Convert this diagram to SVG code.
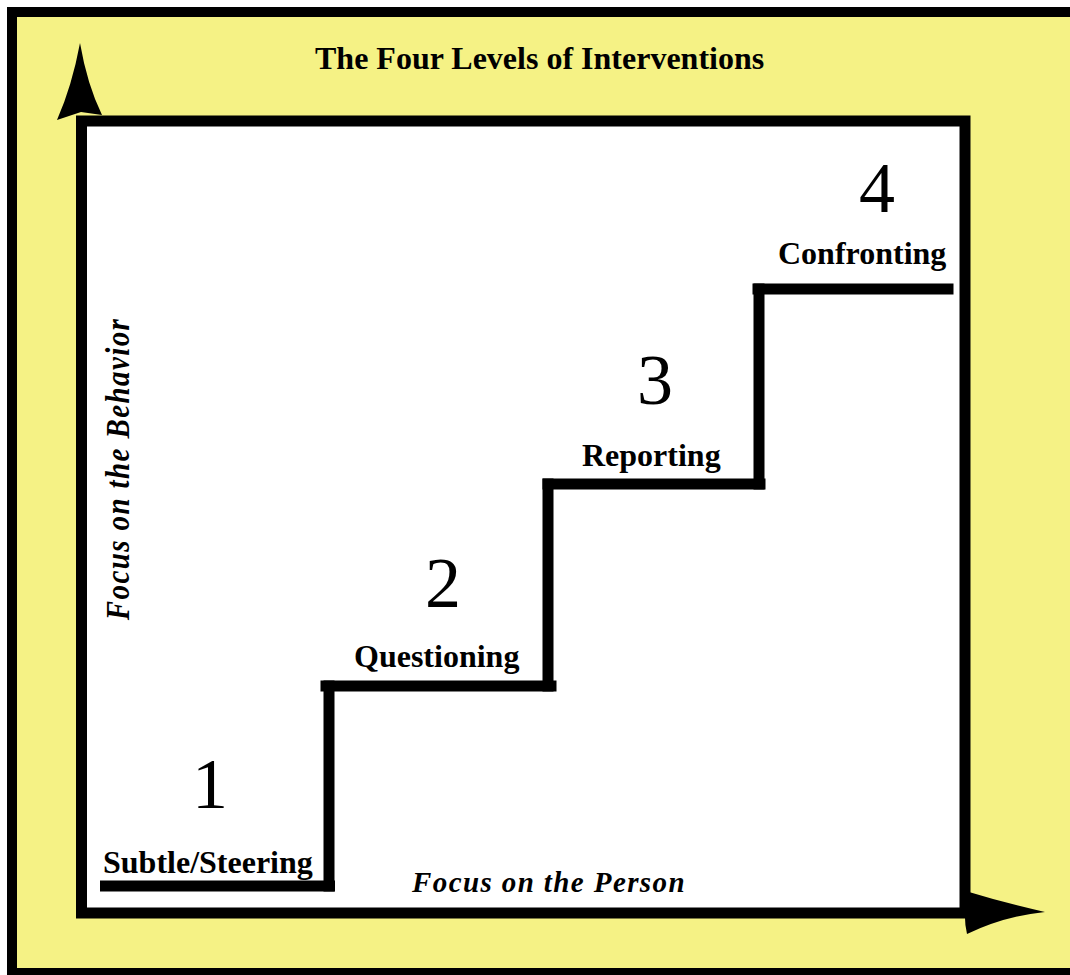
<svg xmlns="http://www.w3.org/2000/svg" width="1070" height="975" viewBox="0 0 1070 975">
  <style>
    .lbl { font-family: "Liberation Serif", "Times New Roman", serif; font-weight: bold; font-size: 32px; fill: #000; }
    .num { font-family: "Liberation Serif", "Times New Roman", serif; font-size: 72px; fill: #000; text-anchor: middle; }
    .axis { font-family: "Liberation Serif", "Times New Roman", serif; font-weight: bold; font-style: italic; font-size: 29px; letter-spacing: 1.4px; fill: #000; }
    .step { stroke: #000; stroke-width: 11; stroke-linecap: square; fill: none; }
  </style>
  <rect x="0" y="0" width="1070" height="975" fill="#ffffff"/>
  <rect x="7" y="7" width="1063" height="968" fill="#000000"/>
  <rect x="17" y="17" width="1053" height="951" fill="#F5F285"/>

  <g id="title">
    <text class="lbl" x="315" y="69">The Four Levels of Interventions</text>
  </g>

  <g id="frame">
    <rect x="81.5" y="121" width="883.5" height="792" fill="#ffffff" stroke="#000" stroke-width="11"/>
  </g>

  <g id="connectors">
    <path id="arrow-up" d="M80,43 Q87,84 102,115 L81,112 L57,120 Q72,86 80,43 Z" fill="#000"/>
    <path id="arrow-right" d="M1045,912 Q1005,903 969,892 Q962,913 967,934 Q1005,916 1045,912 Z" fill="#000"/>
    <line class="step" x1="105.5" y1="886" x2="329.5" y2="886"/>
    <line class="step" x1="329" y1="886" x2="329" y2="686"/>
    <line class="step" x1="326" y1="686" x2="551" y2="686"/>
    <line class="step" x1="548" y1="686" x2="548" y2="484"/>
    <line class="step" x1="548" y1="484" x2="760" y2="484"/>
    <line class="step" x1="759" y1="484" x2="759" y2="289"/>
    <line class="step" x1="758" y1="289" x2="948" y2="289"/>
  </g>

  <g id="level1">
    <text class="num" x="210" y="808">1</text>
    <text class="lbl" x="103" y="873">Subtle/Steering</text>
  </g>
  <g id="level2">
    <text class="num" x="443" y="607">2</text>
    <text class="lbl" x="354" y="667">Questioning</text>
  </g>
  <g id="level3">
    <text class="num" x="655" y="404">3</text>
    <text class="lbl" x="582" y="466">Reporting</text>
  </g>
  <g id="level4">
    <text class="num" x="877" y="212">4</text>
    <text class="lbl" x="778" y="264">Confronting</text>
  </g>

  <g id="axis-x">
    <text class="axis" x="412" y="892">Focus on the Person</text>
  </g>
  <g id="axis-y">
    <text class="axis" text-anchor="middle" transform="translate(129,469) rotate(-90) scale(1,1.15)">Focus on the Behavior</text>
  </g>
</svg>
